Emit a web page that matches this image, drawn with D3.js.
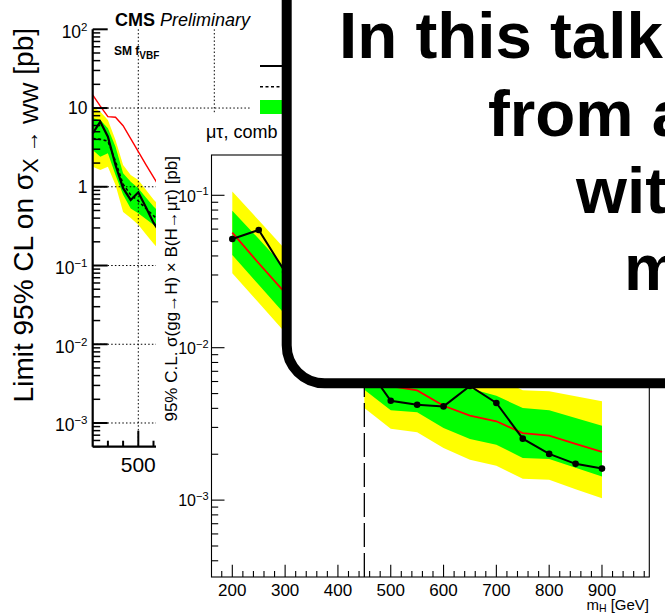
<!DOCTYPE html>
<html><head><meta charset="utf-8">
<script src="https://cdn.jsdelivr.net/npm/d3@7"></script>
<style>
html,body{margin:0;padding:0;background:#fff;overflow:hidden}
svg{display:block}
text{font-family:"Liberation Sans",Arial,Helvetica,sans-serif}
</style>
</head><body>
<svg id="c" width="665" height="615"></svg>
<script>
// ---------- Left chart: limit on sigma(X -> WW) ----------
const wwMass      = [200, 250, 300, 350, 400, 450, 500, 550, 600, 650];
const wwObserved  = [4.78, 6.71, 4.33, 1.89, 0.96, 0.68, 0.85, 0.55, 0.35, 0.25];
const wwExpected  = [4.1, 4.0, 3.8, 2.1, 1.08, 0.79, 0.66, 0.53, 0.43, 0.34];
const wwPlus1     = [7.41, 7.05, 5.53, 3.23, 1.48, 1.16, 0.96, 0.73, 0.56, 0.45];
const wwMinus1    = [2.93, 2.41, 2.66, 1.41, 0.79, 0.53, 0.46, 0.39, 0.33, 0.27];
const wwPlus2     = [10.4, 9.0, 7.05, 3.93, 1.89, 1.41, 1.22, 0.92, 0.69, 0.55];
const wwMinus2    = [1.80, 1.63, 1.80, 1.05, 0.48, 0.40, 0.33, 0.25, 0.19, 0.15];
const wwSM        = [14.7, 10.6, 7.77, 7.63, 5.97, 4.08, 2.79, 1.91, 1.33, 0.92];
const wwYTickVals = [100, 10, 1, 0.1, 0.01, 0.001];
const wwYTickLbl  = [["10","2"],["10",""],["1",""],["10","\u22121"],["10","\u22122"],["10","\u22123"]];
const wwXGrid     = [500, 1000];
const wwXLabels   = [500];

// ---------- Right chart: H -> mu tau ----------
const mtMass      = [200, 250, 300, 350, 400, 450, 500, 550, 600, 650, 700, 750, 800, 850, 900];
const mtObserved  = [0.0517, 0.0592, 0.0314, 0.019, 0.012, 0.0079, 0.00449, 0.00422, 0.00412, 0.00561, 0.00434, 0.00253, 0.00201, 0.00173, 0.00161];
const mtExpected  = [0.0569, 0.0358, 0.0229, 0.0158, 0.011, 0.0076, 0.0056, 0.00525, 0.00416, 0.00358, 0.00329, 0.00275, 0.00265, 0.00234, 0.00207];
const mtPlus1     = [0.0792, 0.0518, 0.0334, 0.0232, 0.0161, 0.0112, 0.0082, 0.0077, 0.00612, 0.0054, 0.00484, 0.00402, 0.00388, 0.00346, 0.00308];
const mtMinus1    = [0.0406, 0.0259, 0.0165, 0.0114, 0.0079, 0.0053, 0.00388, 0.00377, 0.00297, 0.00252, 0.00231, 0.00189, 0.00186, 0.00163, 0.00143];
const mtPlus2     = [0.1057, 0.0686, 0.0442, 0.0308, 0.0215, 0.0148, 0.0109, 0.0102, 0.0081, 0.0070, 0.0064, 0.00525, 0.00517, 0.00480, 0.00445];
const mtMinus2    = [0.0308, 0.0197, 0.0126, 0.0085, 0.0059, 0.00402, 0.00294, 0.00279, 0.00220, 0.00184, 0.00168, 0.00138, 0.00136, 0.00118, 0.00103];
const mtSplitMass = 450;
const mtXTickLbl  = [200, 300, 400, 500, 600, 700, 800, 900];
const mtYTickVals = [0.1, 0.01, 0.001];
const mtYTickLbl  = [["10","\u22121"],["10","\u22122"],["10","\u22123"]];

const calloutLines = ["In this talk", "from a", "wit", "m"];

// ---------------------------------------------------------------
const svg = d3.select("#c");
svg.append("rect").attr("width",665).attr("height",615).attr("fill","#fff");

// ===== Left chart =====
const wwX = d3.scaleLinear().domain([200, 1000]).range([92.7, 214.3]);
const wwY = d3.scaleLog().domain([5e-4, 100]).range([446.7, 29.3]);
const ww = svg.append("g");
const wwRows = wwMass.map((m,i)=>({m, obs:wwObserved[i], exp:wwExpected[i], p1:wwPlus1[i], m1:wwMinus1[i], p2:wwPlus2[i], m2:wwMinus2[i], sm:wwSM[i]}));

ww.append("path").datum(wwRows).attr("fill","#ffff00")
  .attr("d", d3.area().x(d=>wwX(d.m)).y0(d=>wwY(d.m2)).y1(d=>wwY(d.p2)));
ww.append("path").datum(wwRows).attr("fill","#00ff00")
  .attr("d", d3.area().x(d=>wwX(d.m)).y0(d=>wwY(d.m1)).y1(d=>wwY(d.p1)));

// grid (dotted)
wwYTickVals.slice(1).forEach(v=>{
  ww.append("line").attr("x1",wwX(200)).attr("x2",250).attr("y1",wwY(v)).attr("y2",wwY(v))
    .attr("stroke","#000").attr("stroke-width",1).attr("stroke-dasharray","1.5,2.2");
});
wwXGrid.forEach(v=>{
  ww.append("line").attr("x1",wwX(v)).attr("x2",wwX(v)).attr("y1",wwY(100)).attr("y2",wwY(5e-4))
    .attr("stroke","#000").attr("stroke-width",1).attr("stroke-dasharray","1.5,2.2");
});

ww.append("path").datum(wwRows).attr("fill","none").attr("stroke","#ff0000").attr("stroke-width",1.4)
  .attr("d", d3.line().x(d=>wwX(d.m)).y(d=>wwY(d.sm)));
ww.append("path").datum(wwRows).attr("fill","none").attr("stroke","#000").attr("stroke-width",1.6)
  .attr("stroke-dasharray","3,2.5")
  .attr("d", d3.line().x(d=>wwX(d.m)).y(d=>wwY(d.exp)));
ww.append("path").datum(wwRows).attr("fill","none").attr("stroke","#000").attr("stroke-width",2.2)
  .attr("d", d3.line().x(d=>wwX(d.m)).y(d=>wwY(d.obs)));

// axes
const x0 = wwX(200), yb = wwY(5e-4);
ww.append("line").attr("x1",x0).attr("x2",x0).attr("y1",wwY(100)).attr("y2",yb).attr("stroke","#000").attr("stroke-width",2.2);
ww.append("line").attr("x1",x0).attr("x2",300).attr("y1",yb).attr("y2",yb).attr("stroke","#000").attr("stroke-width",2.2);
wwY.ticks().forEach(v=>{
  const major = Math.abs(Math.log10(v) - Math.round(Math.log10(v))) < 1e-9;
  ww.append("line").attr("x1",x0).attr("x2",x0 + (major?15:7.5)).attr("y1",wwY(v)).attr("y2",wwY(v))
    .attr("stroke","#000").attr("stroke-width",major?2:1.5);
});
d3.range(300, 1001, 100).forEach(v=>{
  const major = v % 500 === 0;
  ww.append("line").attr("x1",wwX(v)).attr("x2",wwX(v)).attr("y1",yb).attr("y2",yb-(major?16:6))
    .attr("stroke","#000").attr("stroke-width",2);
});
wwYTickVals.forEach((v,i)=>{
  const [b,e] = wwYTickLbl[i];
  const t = ww.append("text").attr("x",87.5).attr("y",wwY(v) + (e?8.5:6)).attr("text-anchor","end")
    .attr("font-size",17.5).attr("fill","#000");
  t.append("tspan").text(b);
  if(e) t.append("tspan").attr("font-size",11.5).attr("dy",-7).text(e);
});
wwXLabels.forEach(v=>{
  ww.append("text").attr("x",wwX(v)).attr("y",471.5).attr("text-anchor","middle").attr("font-size",21).text(String(v));
});
// y title
const wwT = ww.append("text").attr("transform","translate(33.3,28) rotate(-90)").attr("text-anchor","end").attr("font-size",28);
wwT.append("tspan").text("Limit 95% CL on \u03c3");
wwT.append("tspan").attr("font-size",22).attr("dy",5).text("X \u2192 WW");
wwT.append("tspan").attr("dy",-5).text(" [pb]");
// header
const hdr = ww.append("text").attr("x",115).attr("y",26).attr("font-size",18);
hdr.append("tspan").attr("font-weight","bold").text("CMS");
hdr.append("tspan").attr("font-style","italic").text(" Preliminary");
const sm = ww.append("text").attr("x",114).attr("y",55).attr("font-size",12).attr("font-weight","bold");
sm.append("tspan").text("SM f");
sm.append("tspan").attr("font-size",10).attr("dy",3.5).text("VBF");
// legend
ww.append("rect").attr("x",250).attr("y",42).attr("width",90).attr("height",75).attr("fill","#fff");
ww.append("line").attr("x1",260).attr("x2",305).attr("y1",66).attr("y2",66).attr("stroke","#000").attr("stroke-width",2);
ww.append("line").attr("x1",260).attr("x2",305).attr("y1",86.7).attr("y2",86.7).attr("stroke","#000").attr("stroke-width",1.6).attr("stroke-dasharray","3,2.5");
ww.append("rect").attr("x",260).attr("y",100).attr("width",45).attr("height",15).attr("fill","#00ff00");

// ===== Right chart =====
const mt = svg.append("g");
mt.append("rect").attr("x",156).attr("y",114).attr("width",509).attr("height",501).attr("fill","#fff");
const mtX = d3.scaleLinear().domain([160.6, 989.6]).range([211.5, 649.3]);
const mtY = d3.scaleLog().domain([3.13e-4, 0.1838]).range([577, 155]);
const L = mtX.range()[0], R = mtX.range()[1], T = mtY.range()[1], B = mtY.range()[0];

mt.append("text").attr("x",206).attr("y",138).attr("font-size",18).text("\u03bc\u03c4, comb");

const mtRows = mtMass.map((m,i)=>({m, obs:mtObserved[i], exp:mtExpected[i], p1:mtPlus1[i], m1:mtMinus1[i], p2:mtPlus2[i], m2:mtMinus2[i]}));
const segs = [mtRows.filter(d=>d.m < mtSplitMass), mtRows.filter(d=>d.m >= mtSplitMass)];
segs.forEach(s=>{
  mt.append("path").datum(s).attr("fill","#ffff00")
    .attr("d", d3.area().x(d=>mtX(d.m)).y0(d=>mtY(d.m2)).y1(d=>mtY(d.p2)));
  mt.append("path").datum(s).attr("fill","#00ff00")
    .attr("d", d3.area().x(d=>mtX(d.m)).y0(d=>mtY(d.m1)).y1(d=>mtY(d.p1)));
});
mt.append("path").datum(mtRows).attr("fill","none").attr("stroke","#ff0000").attr("stroke-width",1.8)
  .attr("d", d3.line().x(d=>mtX(d.m)).y(d=>mtY(d.exp)));
mt.append("path").datum(mtRows).attr("fill","none").attr("stroke","#000").attr("stroke-width",2)
  .attr("d", d3.line().x(d=>mtX(d.m)).y(d=>mtY(d.obs)));
mt.selectAll("circle.obs").data(mtRows).enter().append("circle")
  .attr("cx",d=>mtX(d.m)).attr("cy",d=>mtY(d.obs)).attr("r",3.3).attr("fill","#000");

// dashed boundary
mt.append("line").attr("x1",mtX(mtSplitMass)).attr("x2",mtX(mtSplitMass)).attr("y1",B).attr("y2",T)
  .attr("stroke","#000").attr("stroke-width",1.3).attr("stroke-dasharray","24,6");

// frame
mt.append("rect").attr("x",L).attr("y",T).attr("width",R-L).attr("height",B-T)
  .attr("fill","none").attr("stroke","#000").attr("stroke-width",1.1);
mtY.ticks().forEach(v=>{
  const major = Math.abs(Math.log10(v) - Math.round(Math.log10(v))) < 1e-9;
  mt.append("line").attr("x1",L).attr("x2",L+(major?13:6.7)).attr("y1",mtY(v)).attr("y2",mtY(v))
    .attr("stroke","#000").attr("stroke-width",1.1);
});
d3.range(180, 990, 20).forEach(v=>{
  const major = v % 100 === 0;
  mt.append("line").attr("x1",mtX(v)).attr("x2",mtX(v)).attr("y1",B).attr("y2",B-(major?12.3:6))
    .attr("stroke","#000").attr("stroke-width",1.1);
});
mtXTickLbl.forEach(v=>{
  mt.append("text").attr("x",mtX(v)).attr("y",595.5).attr("text-anchor","middle").attr("font-size",17).text(String(v));
});
mtYTickVals.forEach((v,i)=>{
  const [b,e] = mtYTickLbl[i];
  const t = mt.append("text").attr("x",208.5).attr("y",mtY(v)+6.3).attr("text-anchor","end").attr("font-size",16);
  t.append("tspan").text(b);
  if(e) t.append("tspan").attr("font-size",11).attr("dy",-6.5).text(e);
});
const xt = mt.append("text").attr("x",649).attr("y",609.5).attr("text-anchor","end").attr("font-size",15);
xt.append("tspan").text("m");
xt.append("tspan").attr("font-size",10.5).attr("dy",2.5).text("H");
xt.append("tspan").attr("dy",-2.5).text(" [GeV]");
mt.append("text").attr("transform","translate(176.7,156) rotate(-90)").attr("text-anchor","end")
  .attr("font-size",17).text("95% C.L. \u03c3(gg\u2192H) \u00d7 B(H\u2192\u03bc\u03c4) [pb]");

// ===== Callout box =====
const co = svg.append("g");
co.append("rect").attr("x",286.7).attr("y",-60).attr("width",520).attr("height",443.3).attr("rx",38).attr("ry",38)
  .attr("fill","#fff").attr("stroke","#000").attr("stroke-width",10);
const coX = [339, 488, 576, 624];
calloutLines.forEach((s,i)=>{
  co.append("text").attr("x",coX[i]).attr("y",58.3 + i*77.2).attr("font-size",65.5).attr("font-weight","bold").text(s);
});
</script>
</body></html>
